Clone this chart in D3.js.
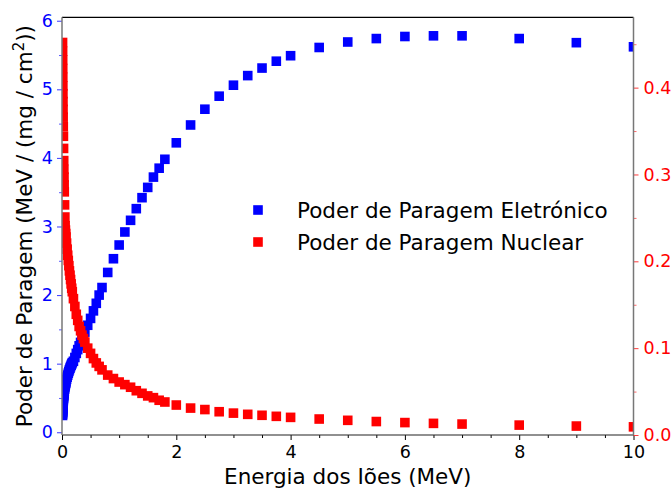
<!DOCTYPE html>
<html>
<head>
<meta charset="utf-8">
<script src="https://cdn.jsdelivr.net/npm/d3@7"></script>
<style>
  html, body { margin: 0; padding: 0; background: #fff; }
  svg { display: block; }
  text { font-family: "DejaVu Sans", sans-serif; }
</style>
</head>
<body>
<svg id="chart" width="672" height="489"></svg>
<script>
// Ion energy (MeV)
const energy = [
  0.010, 0.011, 0.012, 0.013, 0.014, 0.015, 0.016, 0.017, 0.018, 0.020,
  0.0225, 0.025, 0.0275, 0.030, 0.0325, 0.035, 0.0375, 0.040, 0.045, 0.050,
  0.055, 0.060, 0.065, 0.070, 0.080, 0.090, 0.100, 0.110, 0.120, 0.130,
  0.140, 0.150, 0.160, 0.170, 0.180, 0.200, 0.225, 0.250, 0.275, 0.300,
  0.325, 0.350, 0.375, 0.400, 0.450, 0.500, 0.550, 0.600, 0.650, 0.700,
  0.800, 0.900, 1.000, 1.100, 1.200, 1.300, 1.400, 1.500, 1.600, 1.700,
  1.800, 2.000, 2.250, 2.500, 2.750, 3.000, 3.250, 3.500, 3.750, 4.000,
  4.500, 5.000, 5.500, 6.000, 6.500, 7.000, 8.000, 9.000, 10.000
];

// Electronic stopping power, MeV/(mg/cm²) — left axis
const electronic = [
  0.245, 0.268, 0.290, 0.310, 0.330, 0.350, 0.366, 0.382, 0.397, 0.422,
  0.450, 0.476, 0.500, 0.522, 0.543, 0.563, 0.582, 0.598, 0.628, 0.652,
  0.675, 0.696, 0.716, 0.736, 0.771, 0.803, 0.833, 0.861, 0.887, 0.912,
  0.935, 0.957, 0.977, 0.996, 1.015, 1.035, 1.090, 1.150, 1.205, 1.260,
  1.310, 1.360, 1.410, 1.460, 1.560, 1.660, 1.770, 1.880, 2.000, 2.110,
  2.330, 2.530, 2.730, 2.920, 3.090, 3.260, 3.420, 3.570, 3.720, 3.850,
  3.980, 4.220, 4.480, 4.710, 4.900, 5.060, 5.200, 5.310, 5.410, 5.490,
  5.610, 5.690, 5.740, 5.770, 5.780, 5.780, 5.740, 5.680, 5.620
];

// Nuclear stopping power, MeV/(mg/cm²) — right axis
const nuclear = [
  0.452, 0.442, 0.432, 0.422, 0.412, 0.402, 0.393, 0.384, 0.375, 0.366,
  0.355, 0.344, 0.330, 0.316, 0.306, 0.297, 0.288, 0.280, 0.265, 0.251,
  0.241, 0.236, 0.232, 0.228, 0.221, 0.214, 0.207, 0.201, 0.195, 0.189,
  0.184, 0.179, 0.174, 0.169, 0.165, 0.157, 0.148, 0.139, 0.132, 0.125,
  0.120, 0.115, 0.111, 0.107, 0.100, 0.094, 0.088, 0.083, 0.079, 0.075,
  0.069, 0.065, 0.061, 0.058, 0.055, 0.051, 0.048, 0.045, 0.043, 0.040,
  0.038, 0.0345, 0.031, 0.0293, 0.0268, 0.0252, 0.0238, 0.0227, 0.0215, 0.0203,
  0.0184, 0.0169, 0.0155, 0.0143, 0.0134, 0.0126, 0.0114, 0.0103, 0.0094
];

const xTicks = [0, 2, 4, 6, 8, 10];
const yLeftTicks = [0, 1, 2, 3, 4, 5, 6];
const yRightTicks = [0.0, 0.1, 0.2, 0.3, 0.4];
const legendLabels = ["Poder de Paragem Eletrónico", "Poder de Paragem Nuclear"];

const BLUE = "#0000ff", RED = "#ff0000";
const plot = { left: 62, right: 633.5, top: 17.3, bottom: 435 };

const svg = d3.select("#chart");
svg.append("rect").attr("width", 672).attr("height", 489).attr("fill", "#fff");

const x = d3.scaleLinear().domain([0, 10]).range([plot.left, plot.right]);
const yL = d3.scaleLinear().domain([-0.04, 6.05]).range([plot.bottom, plot.top]);
const yR = d3.scaleLinear().domain([0, 0.481]).range([plot.bottom, plot.top]);

svg.append("clipPath").attr("id", "plotClip")
  .append("rect")
  .attr("x", plot.left).attr("y", plot.top)
  .attr("width", plot.right - plot.left).attr("height", plot.bottom - plot.top);

const MS = 9.6;
const pts = energy.map((e, i) => ({ e, el: electronic[i], nu: nuclear[i] }));

// Square markers: electronic (left axis) first, nuclear (right axis) on top
const marks = svg.append("g").attr("clip-path", "url(#plotClip)");
marks.append("g").selectAll("rect").data(pts).join("rect")
  .attr("x", d => x(d.e) - MS / 2).attr("y", d => yL(d.el) - MS / 2)
  .attr("width", MS).attr("height", MS).attr("fill", BLUE);
marks.append("g").selectAll("rect").data(pts).join("rect")
  .attr("x", d => x(d.e) - MS / 2).attr("y", d => yR(d.nu) - MS / 2)
  .attr("width", MS).attr("height", MS).attr("fill", RED);

// Axes
function styleAxis(g, tickColor, textColor, fs) {
  g.select(".domain").remove();
  g.selectAll(".tick line").attr("stroke", tickColor);
  g.selectAll(".tick text").attr("fill", textColor)
    .style("font-size", fs + "px").style("font-family", "DejaVu Sans");
}

const xAxis = svg.append("g").attr("transform", `translate(0,${plot.bottom})`)
  .call(d3.axisBottom(x).tickValues(xTicks).tickFormat(d3.format("d"))
    .tickSize(5).tickPadding(6));
styleAxis(xAxis, "#000", "#000", 17.5);
svg.append("g").attr("transform", `translate(0,${plot.bottom})`)
  .call(d3.axisBottom(x).tickValues(d3.range(0, 10.01, 0.5).filter(v => v % 2 !== 0))
    .tickSize(3).tickFormat(""))
  .call(g => { g.select(".domain").remove(); g.selectAll("line").attr("stroke", "#000"); });

const yLAxis = svg.append("g").attr("transform", `translate(${plot.left},0)`)
  .call(d3.axisLeft(yL).tickValues(yLeftTicks).tickFormat(d3.format("d"))
    .tickSize(5).tickPadding(4));
styleAxis(yLAxis, "#3a3aff", BLUE, 17.5);
svg.append("g").attr("transform", `translate(${plot.left},0)`)
  .call(d3.axisLeft(yL).tickValues(d3.range(0.5, 6, 1)).tickSize(3).tickFormat(""))
  .call(g => { g.select(".domain").remove(); g.selectAll("line").attr("stroke", "#5a5aff"); });

const yRAxis = svg.append("g").attr("transform", `translate(${plot.right},0)`)
  .call(d3.axisRight(yR).tickValues(yRightTicks).tickFormat(d3.format(".1f"))
    .tickSize(5).tickPadding(5));
styleAxis(yRAxis, "#ff3a3a", RED, 17.5);
svg.append("g").attr("transform", `translate(${plot.right},0)`)
  .call(d3.axisRight(yR).tickValues([0.05, 0.15, 0.25, 0.35, 0.45]).tickSize(3).tickFormat(""))
  .call(g => { g.select(".domain").remove(); g.selectAll("line").attr("stroke", "#ff6a6a"); });

// Frame
svg.append("line").attr("x1", plot.left).attr("x2", plot.right)
  .attr("y1", plot.top).attr("y2", plot.top).attr("stroke", "#000").attr("stroke-width", 1.2);
svg.append("line").attr("x1", plot.left).attr("x2", plot.right)
  .attr("y1", plot.bottom).attr("y2", plot.bottom).attr("stroke", "#222").attr("stroke-width", 1.2);
svg.append("line").attr("x1", plot.left).attr("x2", plot.left)
  .attr("y1", plot.top).attr("y2", plot.bottom).attr("stroke", "#777").attr("stroke-width", 1.5);
svg.append("line").attr("x1", plot.right).attr("x2", plot.right)
  .attr("y1", plot.top).attr("y2", plot.bottom).attr("stroke", "#777").attr("stroke-width", 1.5);

// Axis titles
svg.append("text")
  .attr("x", (plot.left + plot.right) / 2).attr("y", 484)
  .attr("text-anchor", "middle").style("font-size", "21.5px").attr("fill", "#000")
  .text("Energia dos Iões (MeV)");

const yt = svg.append("text")
  .attr("transform", `translate(31.5,${(plot.top + plot.bottom) / 2}) rotate(-90)`)
  .attr("text-anchor", "middle").style("font-size", "21.5px").attr("fill", "#000");
yt.append("tspan").text("Poder de Paragem (MeV / (mg / cm");
yt.append("tspan").attr("dy", -8).style("font-size", "15px").text("2");
yt.append("tspan").attr("dy", 8).text("))");

// Legend
const legend = svg.append("g");
[BLUE, RED].forEach((c, i) => {
  const cy = 210 + i * 32;
  legend.append("rect").attr("x", 258 - MS / 2).attr("y", cy - MS / 2)
    .attr("width", MS).attr("height", MS).attr("fill", c);
  legend.append("text").attr("x", 297).attr("y", cy + 7.5)
    .style("font-size", "21.5px").attr("fill", "#000").text(legendLabels[i]);
});
</script>
</body>
</html>
